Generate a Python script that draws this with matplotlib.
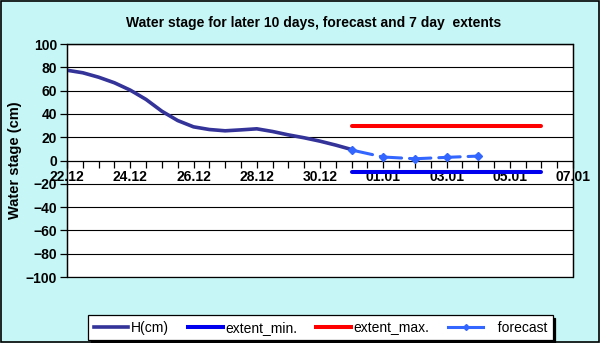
import numpy as np
import matplotlib.pyplot as plt
from matplotlib.lines import Line2D
from matplotlib.patches import Rectangle

# days counted from 22.12 (0) to 07.01 (16)
h_days = [0, 0.5, 1, 1.5, 2, 2.5, 3, 3.5, 4, 4.5, 5, 5.5, 6, 6.5, 7, 7.5, 8, 8.5, 9]
h_cm = [77.5, 75.3, 71.5, 66.7, 60.4, 52.4, 42.3, 34.3, 28.9, 26.6, 25.5, 26.3,
        27.2, 24.9, 22.0, 19.5, 16.6, 13.2, 9.4]

fc_days = [9, 10, 11, 12, 13]
fc_cm = [9.0, 3.0, 1.5, 2.7, 3.8]

ext_days = [9, 15]
ext_min = [-10, -10]
ext_max = [30, 30]

tick_days = [0, 2, 4, 6, 8, 10, 12, 14, 16]
tick_labels = ['22.12', '24.12', '26.12', '28.12', '30.12', '01.01', '03.01', '05.01', '07.01']

plt.rcParams['font.family'] = ['Liberation Sans', 'DejaVu Sans']

fig = plt.figure(figsize=(6, 3.43), dpi=100)
fig.patch.set_facecolor('#C6F6F6')
fig.patches.append(Rectangle((0.001, 0.002), 0.997, 0.996, transform=fig.transFigure,
                             fill=False, edgecolor='black', linewidth=1.2))

ax = fig.add_axes([0.1117, 0.1924, 0.8433, 0.6793])
ax.set_facecolor('white')

for y in range(-100, 101, 20):
    if y != 0:
        ax.axhline(y, color='black', linewidth=0.8, zorder=1)

ax.plot(h_days, h_cm, color='#333399', linewidth=2.6, solid_capstyle='round',
        solid_joinstyle='round', zorder=3)
ax.plot(ext_days, ext_min, color='#0000EE', linewidth=2.9, solid_capstyle='round', zorder=3)
ax.plot(ext_days, ext_max, color='#FF0000', linewidth=2.9, solid_capstyle='round', zorder=3)
ax.plot(fc_days, fc_cm, color='#3366FF', linewidth=2.2, dashes=(7, 2.6),
        dash_capstyle='round', marker='D', markersize=4.5, zorder=4)

ax.set_xlim(0, 16)
ax.set_ylim(-100, 100)
ax.set_yticks(range(-100, 101, 20))
ax.set_xticks(tick_days)
ax.set_xticklabels(tick_labels)
ax.set_xticks(np.arange(0, 16.01, 0.5), minor=True)

ax.spines['bottom'].set_position(('data', 0))
for s in ['left', 'right', 'top']:
    ax.spines[s].set_linewidth(0.9)
ax.spines['bottom'].set_linewidth(0.9)
ax.tick_params(axis='both', which='both', direction='out', length=5, width=0.9,
               labelsize=10, pad=2)
ax.tick_params(axis='x', which='minor', labelbottom=False)
for lab in ax.get_xticklabels() + ax.get_yticklabels():
    lab.set_fontweight('bold')

# the frame line at the bottom of the plot area
ax.add_patch(Rectangle((0, 0), 1, 1, transform=ax.transAxes, fill=False,
                       edgecolor='black', linewidth=0.9, zorder=5, clip_on=False))

ax.set_ylabel('Water stage (cm)', fontsize=10.5, fontweight='bold', labelpad=3)
fig.text(0.522, 0.933, 'Water stage for later 10 days, forecast and 7 day  extents',
         ha='center', va='center', fontsize=10, fontweight='bold')

handles = [
    Line2D([], [], color='#333399', linewidth=2.6),
    Line2D([], [], color='#0000EE', linewidth=2.9),
    Line2D([], [], color='#FF0000', linewidth=2.9),
    Line2D([], [], color='#3366FF', linewidth=2.2, marker='D', markersize=3),
]
leg = fig.legend(handles, ['H(cm)', 'extent_min.', 'extent_max.', '   forecast'],
                 loc='center', bbox_to_anchor=(0.534, 0.045), ncol=4, fontsize=10,
                 frameon=True, fancybox=False, shadow={'color': 'black', 'alpha': 1},
                 handlelength=2.5, handletextpad=0.2, columnspacing=1.35,
                 borderpad=0.4)
leg.get_frame().set_edgecolor('black')
leg.get_frame().set_linewidth(0.9)

fig.savefig('out.png', dpi=100, facecolor=fig.get_facecolor())
